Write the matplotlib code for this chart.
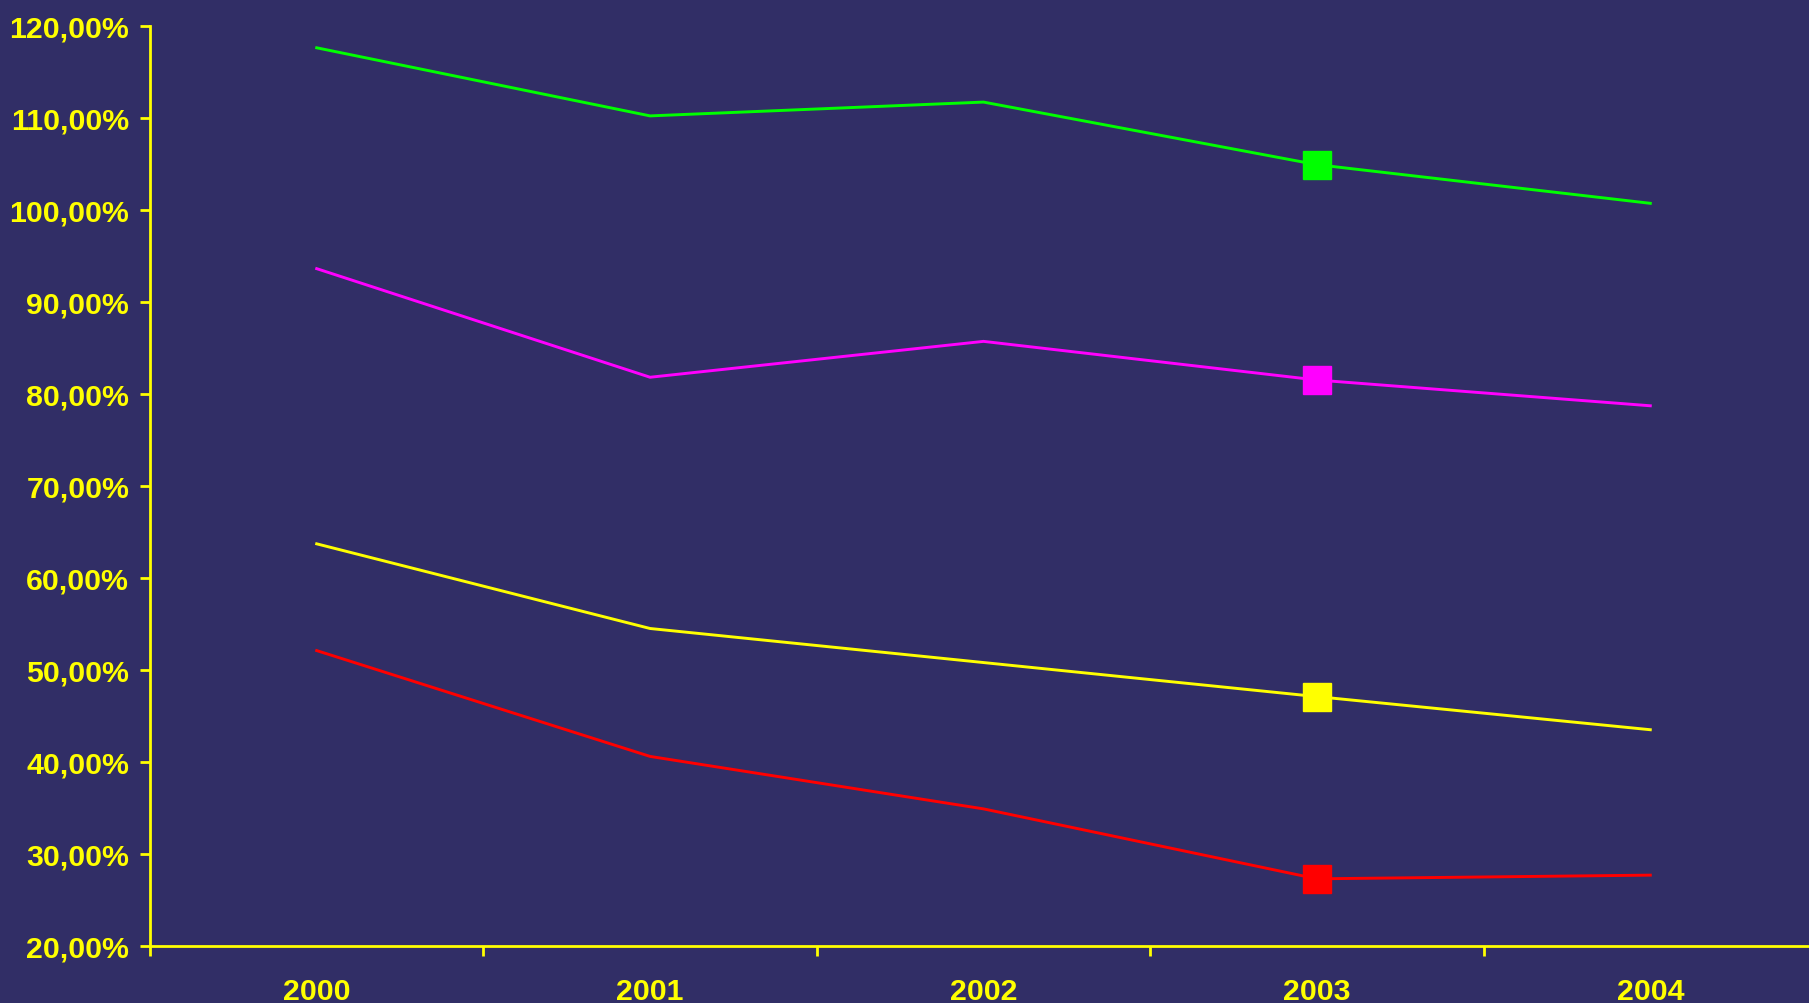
import matplotlib
matplotlib.use('Agg')
import matplotlib.pyplot as plt
from matplotlib.ticker import FuncFormatter, FixedLocator

# values (percent)
years = ['2000', '2001', '2002', '2003', '2004']
green = [117.6, 110.2, 111.7, 104.9, 100.7]
magenta = [93.6, 81.8, 85.7, 81.5, 78.7]
yellow = [63.7, 54.5, 50.8, 47.1, 43.5]
red = [52.1, 40.6, 34.9, 27.3, 27.7]

series = [(green, '#00FF00'), (magenta, '#FF00FF'),
          (yellow, '#FFFF00'), (red, '#FF0000')]
marker_idx = 3  # only the 2003 point has a marker

BG = '#312E66'
AX = '#FFFF00'

plt.rcParams['font.family'] = ['Liberation Sans', 'DejaVu Sans']

fig = plt.figure(figsize=(18.09, 10.04), dpi=100, facecolor=BG)
ax = fig.add_axes([150 / 1809, 57 / 1004, 1667 / 1809, 920.3 / 1004])
ax.set_facecolor(BG)

x = list(range(len(years)))
for vals, col in series:
    ax.plot(x, vals, color=col, linewidth=2.1, solid_joinstyle='miter')
    ax.plot(x[marker_idx], vals[marker_idx], marker='s', markersize=20,
            color=col, linestyle='none')

ax.set_xlim(-0.5, 4.5)
ax.set_ylim(20, 120)
ax.set_yticks(range(20, 121, 10))
ax.yaxis.set_major_formatter(FuncFormatter(lambda v, p: f'{v:.2f}%'.replace('.', ',')))

ax.set_xticks(x)
ax.set_xticklabels(years)
ax.xaxis.set_minor_locator(FixedLocator([i - 0.5 for i in range(len(years) + 1)]))

for s in ['top', 'right']:
    ax.spines[s].set_visible(False)
for s in ['left', 'bottom']:
    ax.spines[s].set_color(AX)
    ax.spines[s].set_linewidth(2.0)

ax.tick_params(axis='y', colors=AX, length=7, width=2, pad=8,
               labelsize=21.8)
ax.tick_params(axis='x', which='major', colors=AX, length=0, pad=22,
               labelsize=21.8)
ax.tick_params(axis='x', which='minor', colors=AX, length=7, width=2)
for lab in ax.get_xticklabels() + ax.get_yticklabels():
    lab.set_fontweight('bold')

fig.savefig('out.png', dpi=100, facecolor=BG)
